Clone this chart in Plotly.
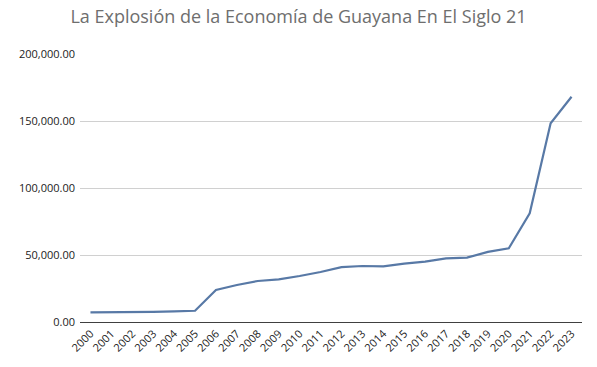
import plotly.graph_objects as go

years = [str(y) for y in range(2000, 2024)]
values = [7200, 7200, 7400, 7600, 8000, 8400, 23900, 27600, 30600, 31800,
          34300, 37300, 41000, 41800, 41500, 43600, 45000, 47500, 48000, 52300,
          55000, 81100, 148300, 168100]
y_ticks = [0, 50000, 100000, 150000, 200000]

fig = go.Figure()
fig.add_trace(go.Scatter(x=years, y=values, mode="lines",
                         line=dict(color="#5879a6", width=2.2), hoverinfo="x+y"))

fig.update_layout(
    width=597, height=367,
    margin=dict(l=80, r=15, t=54, b=45),
    paper_bgcolor="white", plot_bgcolor="white",
    showlegend=False,
    font=dict(family="Open Sans, Liberation Sans, sans-serif", color="#404040", size=11),
    title=dict(text="La Explosión de la Economía de Guayana En El Siglo 21",
               x=0.5, xanchor="center", y=0.955, yanchor="middle",
               font=dict(size=18, color="#6e6e6e",
                         family="Open Sans, Liberation Sans, sans-serif")),
    xaxis=dict(type="category", tickangle=-45, showgrid=False, automargin=False,
               showline=True, linecolor="#404040", linewidth=1,
               ticks="", tickfont=dict(size=11, color="#222222"),
               range=[-0.5, len(years) - 0.5]),
    yaxis=dict(range=[0, 200000], tickvals=y_ticks, tickformat=",.2f",
               automargin=False, ticklabelstandoff=4,
               showgrid=True, gridcolor="#d0d0d0", gridwidth=1,
               zeroline=False, showline=False, ticks="",
               tickfont=dict(size=11, color="#222222")),
)

fig.write_html("out.html", config={"displayModeBar": False},
               post_script="document.body.style.margin='0';document.body.style.overflow='hidden';")
